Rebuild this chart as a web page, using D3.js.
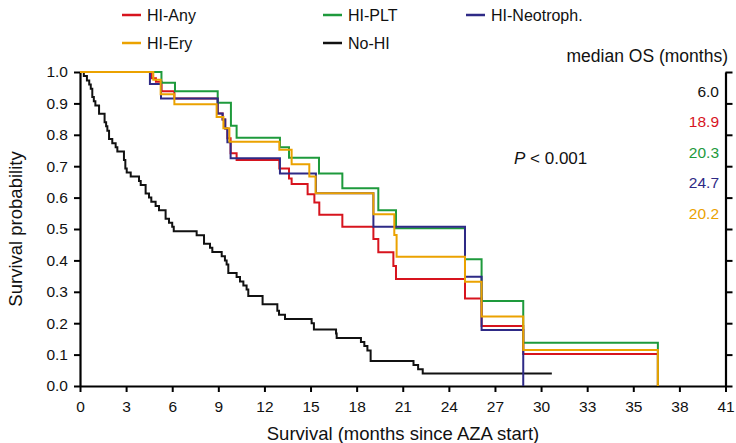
<!DOCTYPE html>
<html>
<head>
<meta charset="utf-8">
<script src="https://cdn.jsdelivr.net/npm/d3@7"></script>
<style>
  html, body { margin: 0; padding: 0; background: #fff; }
  svg { display: block; font-family: "Liberation Sans", Arial, Helvetica, sans-serif; }
</style>
</head>
<body>
<svg id="chart" width="736" height="443"></svg>
<script>
// ---------- data ----------
const seriesNames = ["No-HI", "HI-Any", "HI-PLT", "HI-Neotroph.", "HI-Ery"];
const seriesColors = ["#111111", "#d7141e", "#1e9a3c", "#2e2a86", "#eba200"];

const noHI = [[0,1],[0.25,0.987],[0.45,0.973],[0.6,0.96],[0.7,0.947],[0.8,0.92],[0.9,0.907],[1.0,0.893],
  [1.24,0.867],[1.6,0.84],[1.7,0.827],[1.78,0.813],[1.89,0.787],[2.1,0.773],[2.32,0.76],[2.43,0.747],
  [2.86,0.72],[2.95,0.693],[3.04,0.68],[3.3,0.667],[3.84,0.653],[3.95,0.64],[4.27,0.613],[4.49,0.6],
  [4.64,0.587],[4.92,0.573],[5.14,0.56],[5.57,0.533],[5.79,0.52],[6.0,0.507],[6.1,0.493],[7.59,0.48],
  [8.07,0.453],[8.46,0.44],[8.61,0.427],[9.22,0.413],[9.43,0.4],[9.54,0.387],[9.65,0.36],[10.19,0.347],
  [10.41,0.333],[10.63,0.32],[10.84,0.307],[10.95,0.287],[11.88,0.26],[12.84,0.24],[12.95,0.227],
  [13.34,0.213],[15.07,0.2],[15.22,0.18],[16.66,0.167],[16.7,0.153],[18.28,0.14],[18.5,0.127],
  [18.7,0.113],[18.91,0.08],[21.7,0.067],[22.0,0.053],[22.3,0.04],[30.7,0.04]];

const hiAny = [[0,1],[4.66,0.98],[4.94,0.969],[5.31,0.939],[6.14,0.916],[8.96,0.868],[9.28,0.849],
  [9.45,0.82],[9.59,0.789],[9.8,0.741],[10.19,0.72],[12.97,0.693],[13.6,0.661],[13.77,0.643],
  [14.81,0.611],[15.25,0.584],[15.57,0.545],[17.07,0.507],[19.09,0.468],[19.41,0.426],[20.39,0.382],
  [20.56,0.341],[25.05,0.279],[26.13,0.191],[28.84,0.102],[37.6,0]];

const hiPLT = [[0,1],[5.3,0.966],[6.18,0.939],[8.96,0.902],[9.82,0.829],[10.19,0.791],[13.01,0.76],
  [13.6,0.727],[15.55,0.677],[17.07,0.63],[19.41,0.56],[20.56,0.502],[25.05,0.404],[26.13,0.271],
  [28.84,0.138],[37.6,0]];

const hiNeo = [[0,1],[4.55,0.962],[5.27,0.916],[8.96,0.868],[9.28,0.849],[9.45,0.82],[9.59,0.776],
  [9.8,0.725],[13.01,0.677],[15.35,0.614],[19.09,0.507],[25.05,0.348],[26.13,0.178],[28.84,0]];

const hiEry = [[0,1],[4.77,0.975],[5.25,0.929],[6.14,0.897],[8.89,0.857],[9.33,0.821],[9.72,0.778],
  [12.97,0.752],[13.77,0.706],[14.92,0.667],[15.33,0.614],[19.09,0.547],[20.45,0.481],[20.6,0.412],
  [25.05,0.332],[26.13,0.221],[28.84,0.115],[37.6,0]];

const curves = [noHI, hiAny, hiPLT, hiNeo, hiEry];

const xTickValues = [0,3,6,9,12,15,18,21,24,27,30,33,36,39,42];
const xTickLabels = ["0","3","6","9","12","15","18","21","24","27","30","33","35","38","41"];
const yTickValues = [0,0.1,0.2,0.3,0.4,0.5,0.6,0.7,0.8,0.9,1.0];

const medianTitle = "median OS (months)";
const medianLabels = ["6.0", "18.9", "20.3", "24.7", "20.2"];
const medianColors = ["#111111", "#d7141e", "#1e9a3c", "#2e2a86", "#eba200"];

// ---------- drawing ----------
const svg = d3.select("#chart");
const x = d3.scaleLinear().domain([0, 42]).range([80, 725.5]);
const y = d3.scaleLinear().domain([0, 1]).range([386, 72]);

// axes
const gx = svg.append("g").attr("transform", `translate(0,${y(0)})`)
  .call(d3.axisBottom(x).tickValues(xTickValues).tickSize(6).tickSizeOuter(0)
    .tickFormat((d, i) => xTickLabels[i]));
const gy = svg.append("g").attr("transform", `translate(${x(0)},0)`)
  .call(d3.axisLeft(y).tickValues(yTickValues).tickSize(6).tickSizeOuter(0)
    .tickFormat(d3.format(".1f")));
const gr = svg.append("g").attr("transform", `translate(${x(42)},0)`)
  .call(d3.axisRight(y).tickValues(yTickValues).tickSize(7).tickSizeOuter(0).tickFormat(""));

[gx, gy, gr].forEach(g => {
  g.select(".domain").attr("stroke", "#000").attr("stroke-width", 2.2);
  g.selectAll(".tick line").attr("stroke", "#000").attr("stroke-width", 2);
  g.selectAll("text").attr("fill", "#111").style("font-size", "15.5px")
    .style("font-family", "'Liberation Sans', Arial, sans-serif");
});
gx.selectAll("text").attr("dy", "0.71em").attr("y", 15);
gy.selectAll("text").attr("x", -12);

// curves
const line = d3.line().x(d => x(d[0])).y(d => y(d[1])).curve(d3.curveStepAfter);
curves.forEach((c, i) => {
  svg.append("path").datum(c)
    .attr("d", line)
    .attr("fill", "none")
    .attr("stroke", seriesColors[i])
    .attr("stroke-width", 2)
    .attr("stroke-linejoin", "miter");
});

// legend
const legendItems = [
  {i: 1, lx: 122, ly: 15}, {i: 2, lx: 323, ly: 15}, {i: 3, lx: 466, ly: 15},
  {i: 4, lx: 122, ly: 43}, {i: 0, lx: 323, ly: 43}
];
legendItems.forEach(it => {
  svg.append("line").attr("x1", it.lx).attr("x2", it.lx + 19)
    .attr("y1", it.ly).attr("y2", it.ly)
    .attr("stroke", seriesColors[it.i]).attr("stroke-width", 2.5);
  svg.append("text").attr("x", it.lx + 25).attr("y", it.ly).attr("dy", "0.35em")
    .style("font-size", "16px").attr("fill", "#111").text(seriesNames[it.i]);
});

// median OS
svg.append("text").attr("x", 728).attr("y", 56).attr("dy", "0.35em")
  .attr("text-anchor", "end").style("font-size", "17.5px").attr("fill", "#111").text(medianTitle);
medianLabels.forEach((m, i) => {
  svg.append("text").attr("x", 719).attr("y", 91.5 + i * 30.4).attr("dy", "0.35em")
    .attr("text-anchor", "end").style("font-size", "15.5px").attr("fill", medianColors[i]).text(m);
});

// P value
const pt = svg.append("text").attr("x", 514).attr("y", 158).attr("dy", "0.35em")
  .style("font-size", "17px").attr("fill", "#111");
pt.append("tspan").style("font-style", "italic").text("P");
pt.append("tspan").text(" < 0.001");

// axis titles
svg.append("text").attr("x", 403).attr("y", 434).attr("dy", "0.35em")
  .attr("text-anchor", "middle").style("font-size", "18.5px").attr("fill", "#111")
  .text("Survival (months since AZA start)");
svg.append("text").attr("transform", `translate(16,229) rotate(-90)`).attr("dy", "0.35em")
  .attr("text-anchor", "middle").style("font-size", "18.5px").attr("fill", "#111")
  .text("Survival probability");
</script>
</body>
</html>
